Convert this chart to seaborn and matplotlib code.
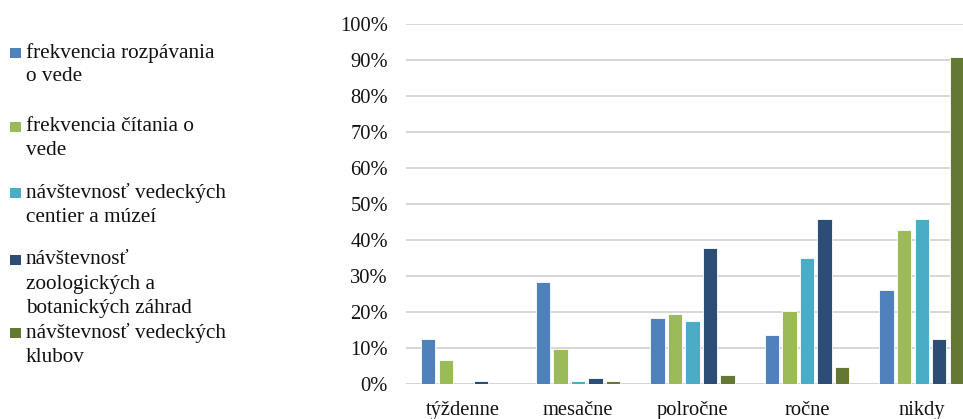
import matplotlib
matplotlib.use("Agg")
import matplotlib.pyplot as plt
from matplotlib.patches import Rectangle
from matplotlib.ticker import FuncFormatter
import pandas as pd
import seaborn as sns

# Frequency categories on the x axis
categories = ["týždenne", "mesačne", "polročne", "ročne", "nikdy"]

# Series names (legend) and percentage values per category
series = [
    "frekvencia rozpávania\no vede",
    "frekvencia čítania o\nvede",
    "návštevnosť vedeckých\ncentier a múzeí",
    "návštevnosť\nzoologických a\nbotanických záhrad",
    "návštevnosť vedeckých\nklubov",
]
rozpravanie = [12.7, 28.3, 18.3, 13.7, 26.2]
citanie = [6.7, 9.8, 19.4, 20.4, 42.9]
centra_muzea = [0.0, 0.9, 17.7, 35.1, 45.8]
zoo_zahrady = [0.9, 1.7, 38.0, 45.8, 12.7]
kluby = [0.0, 0.9, 2.7, 4.8, 91.0]
values = [rozpravanie, citanie, centra_muzea, zoo_zahrady, kluby]

colors = ["#4F81BD", "#9BBB59", "#4BACC6", "#2C4D75", "#647832"]
yticks = list(range(0, 101, 10))

df = pd.DataFrame(
    [
        {"kategória": c, "séria": s, "hodnota": v}
        for s, vals in zip(series, values)
        for c, v in zip(categories, vals)
    ]
)

sns.set_theme(style="white")
plt.rcParams["font.family"] = ["Liberation Serif", "DejaVu Serif"]
FS = 14.8
LEG_FS = 15.3

fig = plt.figure(figsize=(9.63, 4.19), dpi=100)
ax = fig.add_axes([406 / 963, (419 - 384.3) / 419, 573 / 963, 360 / 419])

sns.barplot(
    data=df, x="kategória", y="hodnota", hue="séria",
    order=categories, hue_order=series, palette=colors, saturation=1,
    width=0.764, gap=0.18, edgecolor="white", linewidth=0.6,
    legend=False, ax=ax, zorder=3,
)

ax.set_ylim(0, 100)
ax.set_yticks(yticks)
ax.yaxis.set_major_formatter(FuncFormatter(lambda v, _: f"{v:.0f}%"))
ax.grid(axis="y", color="#D4D4D4", linewidth=1.3, zorder=0)
ax.set_axisbelow(True)
for sp in ax.spines.values():
    sp.set_visible(False)
ax.axhline(0, color="#D4D4D4", linewidth=1.3, zorder=1)
ax.tick_params(axis="y", length=0, pad=13, labelsize=FS, colors="#111111")
ax.tick_params(axis="x", length=0, pad=12, labelsize=FS, colors="#111111")
ax.set_xlabel("")
ax.set_ylabel("")

# Legend on the left: colour square followed by wrapped label
entry_tops = [52.7, 126.7, 193.3, 260.0, 333.0]
line_h = 24.0
for label, color, ytop in zip(series, colors, entry_tops):
    fig.add_artist(Rectangle((10 / 963, 1 - (ytop + 5) / 419), 11 / 963, 10 / 419,
                             transform=fig.transFigure, facecolor=color,
                             edgecolor="none"))
    for i, line in enumerate(label.split("\n")):
        fig.text(26 / 963, 1 - (ytop + i * line_h) / 419, line,
                 fontsize=LEG_FS, va="center", ha="left", color="#111111")

fig.savefig("out.png", dpi=100)
